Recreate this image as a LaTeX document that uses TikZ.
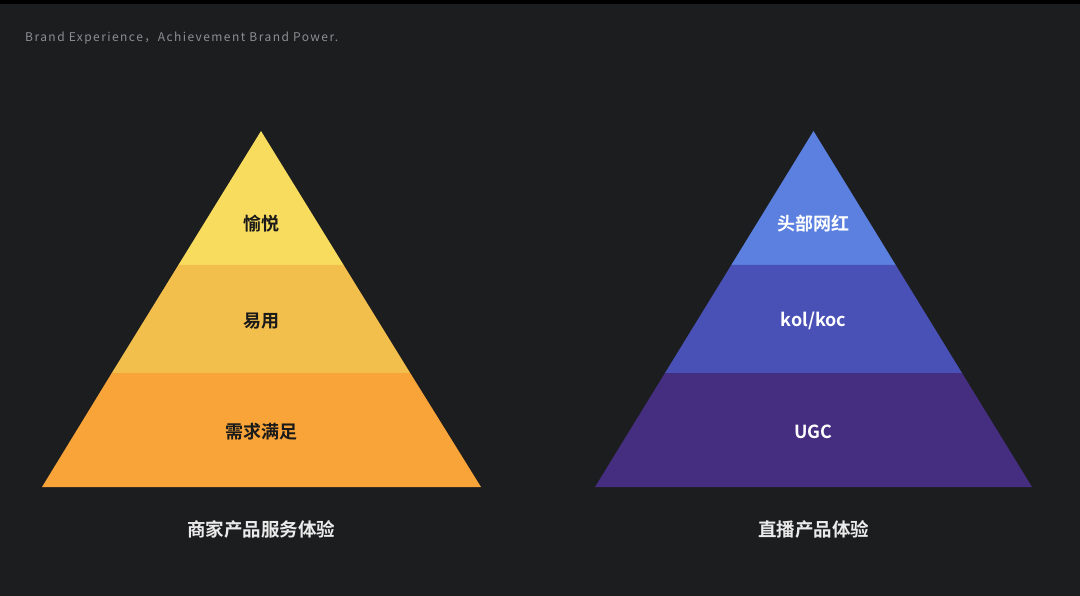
\documentclass[tikz,border=0pt]{standalone}
\usepackage{fontspec}
\setmainfont{Noto Sans CJK SC}
\newfontfamily\cjkb{Noto Sans CJK SC Bold}[LetterSpace=0]
\newfontfamily\topfont{Noto Sans CJK SC}[LetterSpace=12]
\definecolor{bg}{HTML}{1C1D1F}
\definecolor{ya}{HTML}{F8DC5E}
\definecolor{yb}{HTML}{F3BF4C}
\definecolor{yc}{HTML}{F9A438}
\definecolor{ba}{HTML}{5C80E0}
\definecolor{bb}{HTML}{4A51B6}
\definecolor{bc}{HTML}{452E80}
\definecolor{greytxt}{HTML}{8C8E91}
\definecolor{darktxt}{HTML}{1A1A1A}
\tikzset{
  lvlblack/.style={font=\cjkb\fontsize{18}{21}\selectfont, text=darktxt, inner sep=0pt},
  lvlwhite/.style={font=\cjkb\fontsize{18}{21}\selectfont, text=white, inner sep=0pt},
  captxt/.style={font=\cjkb\fontsize{18.5}{21}\selectfont, text=white!92!black, inner sep=0pt},
}
\begin{document}
\begin{tikzpicture}[x=1pt,y=-1pt]
\useasboundingbox (0,0) rectangle (1080,596);
\fill[bg] (0,0) rectangle (1080,596);
\fill[black] (0,0) rectangle (1080,4);
\node[anchor=west, inner sep=0pt, text=greytxt, font=\topfont\fontsize{12}{14}\selectfont] (title) at (25,38) {Brand Experience，Achievement Brand Power.};
% left pyramid
\fill[ya] (261,131) -- (343.6,265) -- (178.4,265) -- cycle;
\fill[yb] (178.4,265) -- (343.6,265) -- (410.2,373) -- (111.8,373) -- cycle;
\fill[yc] (111.8,373) -- (410.2,373) -- (481,487) -- (42,487) -- cycle;
% right pyramid
\fill[ba] (813.5,131) -- (895.7,265) -- (731.3,265) -- cycle;
\fill[bb] (731.3,265) -- (895.7,265) -- (962,373) -- (665,373) -- cycle;
\fill[bc] (665,373) -- (962,373) -- (1032,487) -- (595,487) -- cycle;
% labels
\node[lvlblack] (l1) at (261,224) {愉悦};
\node[lvlblack] (l2) at (261,321) {易用};
\node[lvlblack] (l3) at (261,432) {需求满足};
\node[lvlwhite] (r1) at (813.5,224) {头部网红};
\node[lvlwhite] (r2) at (813.5,321) {kol/koc};
\node[lvlwhite] (r3) at (813.5,432) {UGC};
\node[captxt] (cl) at (261,529) {商家产品服务体验};
\node[captxt] (cr) at (813.5,529) {直播产品体验};
\end{tikzpicture}
\end{document}
